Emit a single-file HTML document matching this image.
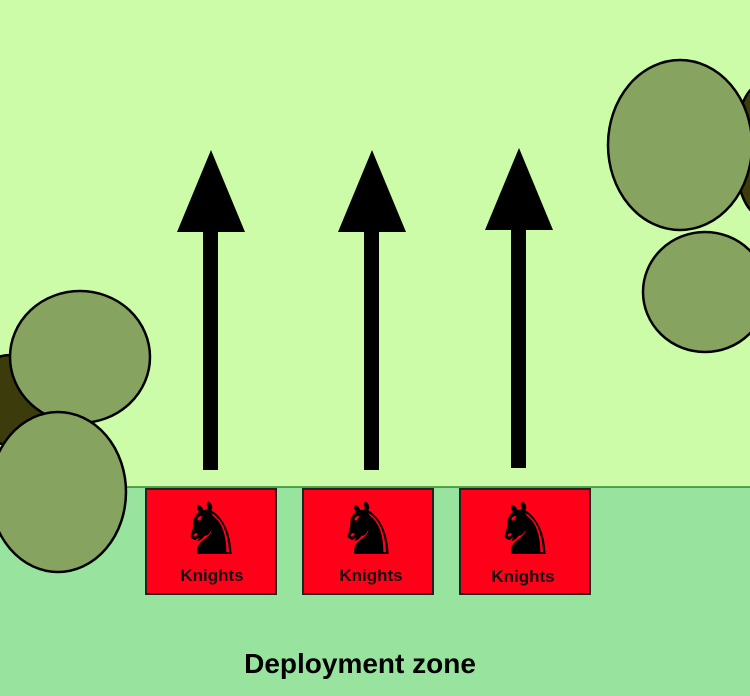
<!DOCTYPE html>
<html><head><style>body{margin:0}svg{display:block}</style></head><body>
<svg width="750" height="696" xmlns="http://www.w3.org/2000/svg" font-family="Liberation Sans, sans-serif">
<rect width="750" height="487" fill="#ccfca8"/>
<rect y="487" width="750" height="209" fill="#98e49f"/>
<line x1="0" y1="487" x2="750" y2="487" stroke="#2d8a2d" stroke-width="1.5"/>
<g stroke="#000" stroke-width="2.5">
<ellipse cx="10" cy="400" rx="40" ry="45" fill="#3b3b0b"/>
<ellipse cx="80" cy="357" rx="70" ry="66" fill="#86a45f"/>
<ellipse cx="58" cy="492" rx="68" ry="80" fill="#86a45f"/>
<ellipse cx="760" cy="150" rx="25" ry="65" fill="#3b3b0b"/>
<ellipse cx="680" cy="145" rx="72" ry="85" fill="#86a45f"/>
<ellipse cx="705" cy="292" rx="62" ry="60" fill="#86a45f"/>
</g>
<g fill="#000">
<rect x="203" y="228" width="15" height="242"/><polygon points="177,232 245,232 211,150"/>
<rect x="364" y="228" width="15" height="242"/><polygon points="338,232 406,232 372,150"/>
<rect x="511" y="228" width="15" height="240"/><polygon points="485,230 553,230 519,148"/>
</g>
<g fill="#ff0019" stroke="#222" stroke-width="2">
<rect x="146" y="489" width="130" height="105"/>
<rect x="303" y="489" width="130" height="105"/>
<rect x="460" y="489" width="130" height="105"/>
</g>
<g font-family="DejaVu Sans, sans-serif" font-size="72" text-anchor="middle" fill="#000">
<text x="211" y="554">♞</text><text x="368" y="554">♞</text><text x="525" y="554">♞</text>
</g>
<g font-weight="bold" font-size="17" text-anchor="middle" fill="#111">
<text x="212" y="581">Knights</text><text x="371" y="581">Knights</text><text x="523" y="582">Knights</text>
</g>
<text x="360" y="673" font-weight="bold" font-size="28" text-anchor="middle" fill="#000">Deployment zone</text>
</svg>
</body></html>
